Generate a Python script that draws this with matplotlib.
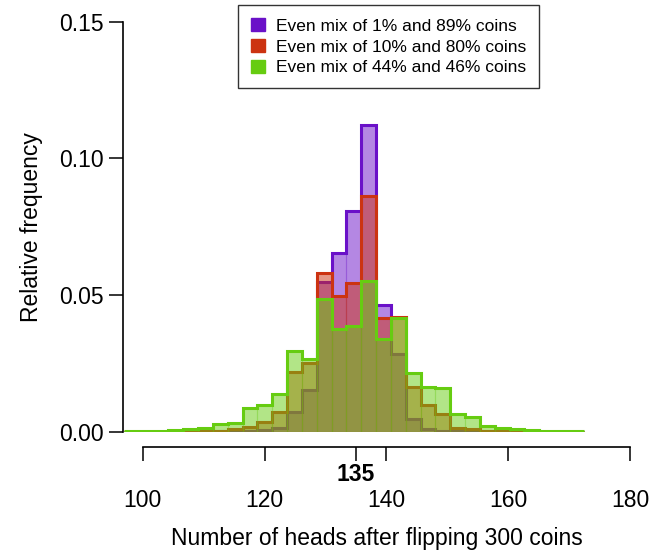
import matplotlib
matplotlib.use('Agg')
import matplotlib.pyplot as plt
import numpy as np

plt.rcParams['font.family'] = ['Liberation Sans', 'DejaVu Sans']

# ---------------------------------------------------
# Data
# ---------------------------------------------------
bin_lo = 96.9
bin_hi = 172.4
n_bins = 31

labels = ['Even mix of 1% and 89% coins',
          'Even mix of 10% and 80% coins',
          'Even mix of 44% and 46% coins']
colors = ['#6A11C8', '#CC3311', '#66CC11']

mix_1_89 = [0, 0, 0, 0, 0, 0.0001, 0.0001, 0.0001, 0.0002, 0.0006, 0.0015,
            0.0072, 0.0153, 0.0549, 0.0655, 0.0808, 0.1122, 0.0464, 0.0283,
            0.0046, 0.0010, 0.0003, 0.0001, 0, 0, 0, 0, 0, 0, 0, 0]
mix_10_80 = [0, 0, 0, 0, 0.0001, 0.0002, 0.0004, 0.0009, 0.0018, 0.0037,
             0.0072, 0.0217, 0.0250, 0.0580, 0.0498, 0.0543, 0.0862, 0.0415,
             0.0420, 0.0162, 0.0098, 0.0065, 0.0015, 0.0009, 0.0004, 0.0002,
             0.0001, 0.0001, 0, 0, 0]
mix_44_46 = [0.0001, 0.0002, 0.0003, 0.0006, 0.0009, 0.0012, 0.0027, 0.0033,
             0.0087, 0.0098, 0.0138, 0.0296, 0.0266, 0.0486, 0.0376, 0.0387,
             0.0550, 0.0338, 0.0417, 0.0216, 0.0162, 0.0160, 0.0065, 0.0053,
             0.0022, 0.0015, 0.0009, 0.0006, 0.0004, 0.0003, 0.0002]

xticks = [100, 120, 135, 140, 160, 180]
yticks = [0.00, 0.05, 0.10, 0.15]

# ---------------------------------------------------
edges = np.linspace(bin_lo, bin_hi, n_bins + 1)
centers = 0.5 * (edges[:-1] + edges[1:])
width = edges[1] - edges[0]

fig = plt.figure(figsize=(6.62, 5.51), dpi=100)
ax = fig.add_axes([123.3 / 662, 1 - 431.7 / 551, (630 - 123.3) / 662, 410 / 551])

series = [mix_1_89, mix_10_80, mix_44_46]
handles = []
for vals, c, lab in zip(series, colors, labels):
    ax.bar(centers, vals, width=width, facecolor=matplotlib.colors.to_rgba(c, 0.5),
           edgecolor=matplotlib.colors.to_rgba(c, 0.25), linewidth=0.8)
    ax.stairs(vals, edges, color=c, linewidth=2.2, baseline=None)
    handles.append(matplotlib.patches.Patch(facecolor=c, edgecolor=c, label=lab))

ax.set_xlim(bin_lo - 0.1, 180)
ax.set_ylim(0, 0.15)

for s in ['top', 'right']:
    ax.spines[s].set_visible(False)
ax.spines['left'].set_bounds(0, 0.15)
ax.spines['bottom'].set_bounds(100, 180)
ax.spines['bottom'].set_position(('outward', 11.3))
ax.spines['left'].set_linewidth(1.2)
ax.spines['bottom'].set_linewidth(1.2)

ax.set_xticks(xticks)
ax.set_xticklabels([str(t) for t in xticks])
ax.set_yticks(yticks)
ax.set_yticklabels(['%.2f' % t for t in yticks])
ax.tick_params(axis='both', length=10, width=1.1, labelsize=16.5, direction='out')
ax.tick_params(axis='y', pad=4)

for tick, val in zip(ax.xaxis.get_major_ticks(), xticks):
    if val == 135:
        tick.set_pad(1.5)
        tick.label1.set_fontweight('bold')
    else:
        tick.set_pad(20)

ax.set_xlabel('Number of heads after flipping 300 coins', fontsize=16.5, labelpad=11)
ax.set_ylabel('Relative frequency', fontsize=16.5, labelpad=12)

leg = fig.legend(handles=handles, loc='upper center', bbox_to_anchor=(0.587, 0.991),
                 fontsize=12.5, frameon=True, fancybox=False, edgecolor='black',
                 handlelength=0.8, handleheight=0.8, handletextpad=0.6,
                 borderpad=0.75, labelspacing=0.3, borderaxespad=0)
leg.get_frame().set_linewidth(1.0)

plt.savefig('out.png', dpi=100)
